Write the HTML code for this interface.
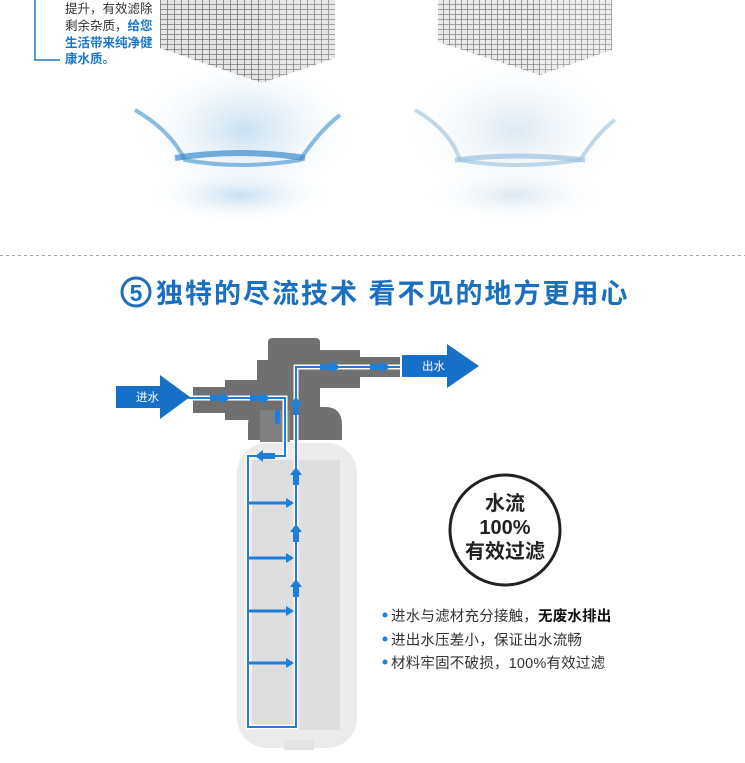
<!DOCTYPE html>
<html><head><meta charset="utf-8"><style>
html,body{margin:0;padding:0;background:#fff;}
svg{display:block;font-family:"Liberation Sans","Noto Sans CJK SC",sans-serif;}
</style></head><body>
<svg width="745" height="763" viewBox="0 0 745 763" xmlns="http://www.w3.org/2000/svg">
<defs>
<pattern id="g" width="7" height="5" patternUnits="userSpaceOnUse"><rect width="7" height="5" fill="#e4e4e4"/><path d="M0 4.5H7M6.5 0V5" stroke="#777" stroke-width="0.8"/></pattern>
<pattern id="g2" width="6" height="5" patternUnits="userSpaceOnUse"><rect width="6" height="5" fill="#eaeaea"/><path d="M0 4.5H6M5.5 0V5" stroke="#888" stroke-width="0.8"/></pattern>
<radialGradient id="sp" cx="50%" cy="50%" r="50%"><stop offset="0" stop-color="#c8dff0"/><stop offset="1" stop-color="#fff" stop-opacity="0"/></radialGradient>
<radialGradient id="sp2" cx="50%" cy="50%" r="50%"><stop offset="0" stop-color="#dde9f2"/><stop offset="1" stop-color="#fff" stop-opacity="0"/></radialGradient>
</defs>
<rect width="745" height="763" fill="#fff"/>
<path d="M35 0V60H60" stroke="#1a78c8" stroke-width="1.5" fill="none"/>
<g font-size="12.5" fill="#333">
<text x="65" y="13">提升，有效滤除</text>
<text x="65" y="30">剩余杂质，<tspan fill="#1a78c8" font-weight="bold">给您</tspan></text>
<text x="65" y="47" fill="#1a78c8" font-weight="bold">生活带来纯净健</text>
<text x="65" y="63" fill="#1a78c8" font-weight="bold">康水质。</text>
</g>
<ellipse cx="245" cy="130" rx="120" ry="80" fill="url(#sp)"/>
<ellipse cx="240" cy="195" rx="100" ry="30" fill="url(#sp)"/>
<path d="M135 110 Q170 130 185 160 Q240 170 300 160 Q320 130 340 115" stroke="#5a9fd4" stroke-width="4" fill="none" opacity="0.7"/>
<path d="M175 158 Q240 148 305 158" stroke="#3b8ad0" stroke-width="6" fill="none" opacity="0.7"/>
<polygon points="160,0 262,0 262,83 160,48" fill="url(#g)"/>
<polygon points="262,0 335,0 335,58 262,83" fill="url(#g)" opacity="0.85"/>
<ellipse cx="515" cy="130" rx="120" ry="80" fill="url(#sp2)"/>
<ellipse cx="515" cy="195" rx="100" ry="30" fill="url(#sp2)"/>
<path d="M415 110 Q450 130 460 160 Q515 170 580 160 Q600 130 615 120" stroke="#a8c8e0" stroke-width="4" fill="none" opacity="0.7"/>
<path d="M455 160 Q515 152 585 160" stroke="#9cc2e0" stroke-width="5" fill="none" opacity="0.7"/>
<polygon points="438,0 540,0 540,75 438,42" fill="url(#g2)"/>
<polygon points="540,0 612,0 612,50 540,75" fill="url(#g2)" opacity="0.85"/>
<line x1="0" y1="255.5" x2="745" y2="255.5" stroke="#aaa" stroke-dasharray="3,3"/>
<circle cx="136" cy="292" r="14" fill="none" stroke="#1a6fc0" stroke-width="3"/>
<text x="136" y="301" font-size="23" font-weight="bold" fill="#1a6fc0" text-anchor="middle">5</text>
<text x="156" y="303" font-size="27" font-weight="bold" fill="#1a6fc0" letter-spacing="2">独特的尽流技术 看不见的地方更用心</text>
<rect x="237" y="443" width="120" height="305" rx="30" fill="#ebebeb"/>
<rect x="284" y="740" width="30" height="10" fill="#e4e4e4"/>
<rect x="252" y="460" width="88" height="270" fill="#dedede"/>
<g fill="#707070">
<rect x="268" y="338" width="52" height="30" rx="4"/>
<rect x="257" y="360" width="63" height="50"/>
<rect x="320" y="350" width="40" height="38"/>
<rect x="355" y="357" width="45" height="20"/>
<rect x="193" y="387" width="94" height="26"/>
<rect x="225" y="380" width="35" height="40"/>
<path d="M248 440V425Q248 407 265 407H325Q342 407 342 425V440Z"/>
</g>
<rect x="260" y="410" width="30" height="32" fill="#808080"/>
<g stroke="#fff" stroke-width="5" fill="none">
<path d="M188 398H285V456H248V727H296V367H400"/>
</g>
<g stroke="#1f7fd8" stroke-width="2" fill="none">
<path d="M188 398H285V456H248V727H296V367H400"/>
</g>
<g fill="#1f7fd8">
<polygon points="210,395 222,395 222,392 230,398 222,404 222,401 210,401"/>
<polygon points="250,395 262,395 262,392 270,398 262,404 262,401 250,401"/>
<polygon points="320,364 332,364 332,361 340,367 332,373 332,370 320,370"/>
<polygon points="370,364 382,364 382,361 390,367 382,373 382,370 370,370"/>
<polygon points="275,453 263,453 263,450 255,456 263,462 263,459 275,459"/>
<rect x="275" y="410" width="5" height="14" rx="2"/>
<g id="ua"><polygon points="293,485 293,475 290,475 296,467 302,475 299,475 299,485"/></g>
<use href="#ua" y="57"/><use href="#ua" y="112"/>
<polygon points="293,415 293,405 290,405 296,397 302,405 299,405 299,415"/>
</g>
<g stroke="#1f7fd8" stroke-width="3">
<line x1="249" y1="503" x2="287" y2="503"/><line x1="249" y1="558" x2="287" y2="558"/>
<line x1="249" y1="611" x2="287" y2="611"/><line x1="249" y1="663" x2="287" y2="663"/>
</g>
<g fill="#1f7fd8">
<polygon points="286,498 294,503 286,508"/><polygon points="286,553 294,558 286,563"/>
<polygon points="286,606 294,611 286,616"/><polygon points="286,658 294,663 286,668"/>
</g>
<polygon points="116,386 160,386 160,375 190,397 160,419 160,408 116,408" fill="#1670c8"/>
<text x="136" y="401" font-size="11.5" fill="#fff">进水</text>
<polygon points="402,355 447,355 447,344 479,366 447,388 447,377 402,377" fill="#1670c8"/>
<text x="422" y="370" font-size="11.5" fill="#fff">出水</text>
<circle cx="505" cy="530" r="55" fill="#fff" stroke="#222" stroke-width="3"/>
<g font-size="20" font-weight="bold" fill="#222" text-anchor="middle">
<text x="505" y="510">水流</text>
<text x="505" y="534">100%</text>
<text x="505" y="558">有效过滤</text>
</g>
<g font-size="14.5" fill="#333" letter-spacing="0.2">
<circle cx="385" cy="615" r="2.5" fill="#1f7fd8"/>
<text x="391" y="621">进水与滤材充分接触，<tspan font-weight="bold" fill="#111">无废水排出</tspan></text>
<circle cx="385" cy="639" r="2.5" fill="#1f7fd8"/>
<text x="391" y="645">进出水压差小，保证出水流畅</text>
<circle cx="385" cy="662" r="2.5" fill="#1f7fd8"/>
<text x="391" y="668">材料牢固不破损，100%有效过滤</text>
</g>
</svg>
</body></html>
